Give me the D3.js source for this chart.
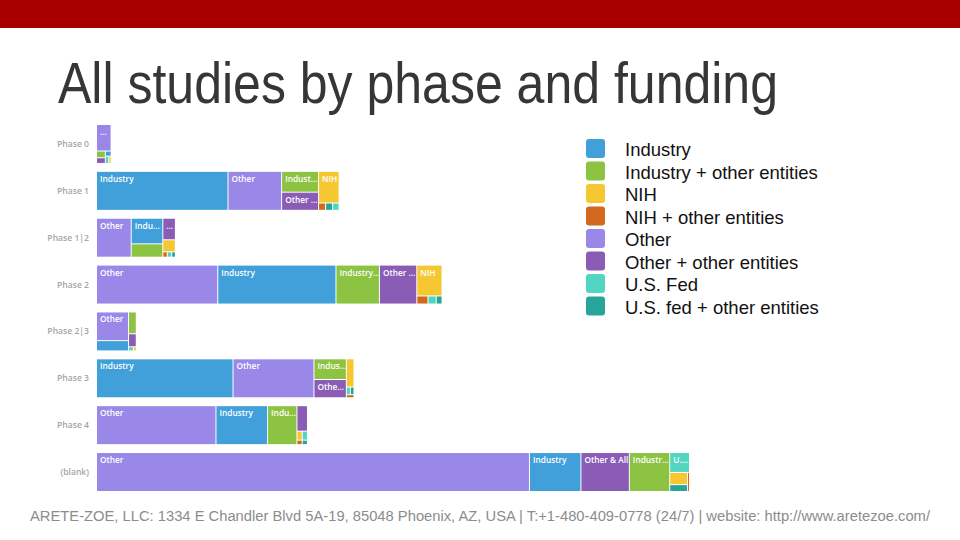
<!DOCTYPE html>
<html>
<head>
<meta charset="utf-8">
<script src="https://cdn.jsdelivr.net/npm/d3@7"></script>
<style>
  body { margin: 0; background: #fff; }
  svg { display: block; }
</style>
</head>
<body>
<div id="chart"></div>
<script>
// Phases (rows) and funding types (cells)
const phases = ["Phase 0", "Phase 1", "Phase 1|2", "Phase 2", "Phase 2|3", "Phase 3", "Phase 4", "(blank)"];
const funders = ["Industry", "Industry + other entities", "NIH", "NIH + other entities",
                 "Other", "Other + other entities", "U.S. Fed", "U.S. fed + other entities"];
const funderColors = ["#41a0d9", "#8cc342", "#f5c832", "#d2691e", "#9a88e8", "#8b5cb6", "#52d6c2", "#28a59b"];

// number of studies per funding type, same order as funders
const phase0Values  = [0.7, 1.4, 0.4, 0, 9.2, 1.2, 0.6, 0];
const phase1Values  = [130, 19.5, 16.5, 1.3, 53, 17, 1.2, 1.3];
const phase12Values = [20.4, 10.6, 3.8, 0.6, 34, 6.8, 0.6, 0.5];
const phase2Values  = [117, 43, 19.8, 2.3, 120, 37, 1.7, 1.2];
const phase23Values = [8.2, 4.2, 0.3, 0, 22.8, 2.5, 0.5, 0];
const phase3Values  = [135, 17, 5.5, 0.6, 80, 15, 0.8, 0.7];
const phase4Values  = [51, 29, 1.2, 0.6, 118, 6.8, 1.2, 0.6];
const blankValues   = [51, 40, 5.5, 1, 429, 48, 10, 3.1];

// the (blank) row names its mixed "Other" group differently
const labelOverrides = { "(blank)|Other + other entities": "Other & All" };

const rowValues = [phase0Values, phase1Values, phase12Values, phase2Values,
                   phase23Values, phase3Values, phase4Values, blankValues];

const footerText = "ARETE-ZOE, LLC: 1334 E Chandler Blvd 5A-19, 85048 Phoenix, AZ, USA | T:+1-480-409-0778 (24/7) | website: http://www.aretezoe.com/";

const width = 960, height = 540;

const svg = d3.select("#chart")
    .append("svg")
    .attr("width", width)
    .attr("height", height);

// Top red band
svg.append("rect")
    .attr("x", 0).attr("y", 0)
    .attr("width", width).attr("height", 28)
    .attr("fill", "#a80000");

// Title
svg.append("text")
    .attr("x", 58).attr("y", 103)
    .attr("textLength", 720)
    .attr("lengthAdjust", "spacingAndGlyphs")
    .style("font-family", "'Liberation Sans', Arial, sans-serif")
    .style("font-size", "57px")
    .style("fill", "#363636")
    .text("All studies by phase and funding");

// Scales
const y = d3.scaleBand()
    .domain(phases)
    .range([125, 491])
    .paddingInner(0.19);

const totals = rowValues.map(v => d3.sum(v));
const x = d3.scaleLinear()
    .domain([0, d3.max(totals)])
    .range([0, 592]);

const color = d3.scaleOrdinal().domain(funders).range(funderColors);

const chartLeft = 97;

// Row labels
svg.selectAll(".phase-label")
    .data(phases)
    .join("text")
    .attr("class", "phase-label")
    .attr("x", 89)
    .attr("y", d => y(d) + y.bandwidth() / 2 + 3)
    .attr("text-anchor", "end")
    .style("font-family", "'Open Sans', sans-serif")
    .style("font-weight", 600)
    .style("font-size", "8.6px")
    .style("fill", "#a6a6a6")
    .text(d => d);

// Shorten a label with an ellipsis until it fits
function fitLabel(textSel, full, maxW) {
    const node = textSel.node();
    textSel.text(full);
    if (node.getComputedTextLength() <= maxW) return;
    let s = full;
    while (s.length > 0) {
        s = s.slice(0, -1);
        textSel.text(s + "…");
        if (node.getComputedTextLength() <= maxW) return;
    }
    textSel.text("…");
}

// One treemap per phase row
phases.forEach((phase, i) => {
    const vals = rowValues[i];
    const root = d3.hierarchy({
            children: funders.map((f, j) => ({ name: f, value: vals[j] })).filter(d => d.value > 0)
        })
        .sum(d => d.value || 0)
        .sort((a, b) => b.value - a.value);

    d3.treemap()
        .size([x(totals[i]), y.bandwidth()])
        .tile(d3.treemapSquarify)
        .paddingInner(1)(root);

    const g = svg.append("g")
        .attr("transform", `translate(${chartLeft},${y(phase)})`);

    const cell = g.selectAll("g")
        .data(root.leaves())
        .join("g")
        .attr("transform", d => `translate(${d.x0},${d.y0})`);

    cell.append("rect")
        .attr("width", d => Math.max(0, d.x1 - d.x0))
        .attr("height", d => Math.max(0, d.y1 - d.y0))
        .attr("fill", d => color(d.data.name));

    cell.filter(d => (d.x1 - d.x0) >= 11 && (d.y1 - d.y0) >= 15)
        .append("text")
        .attr("x", 3)
        .attr("y", 10)
        .style("font-family", "'Open Sans', sans-serif")
        .style("font-weight", 600)
        .style("font-size", "8.3px")
        .style("fill", "#fff")
        .each(function(d) {
            const name = labelOverrides[phase + "|" + d.data.name] || d.data.name;
            fitLabel(d3.select(this), name, d.x1 - d.x0 - 2);
        });
});

// Legend
const legend = svg.selectAll(".legend")
    .data(funders)
    .join("g")
    .attr("class", "legend")
    .attr("transform", (d, i) => `translate(586,${148.5 + i * 22.5})`);

legend.append("rect")
    .attr("x", 0).attr("y", -9.5)
    .attr("width", 19).attr("height", 19)
    .attr("rx", 3)
    .attr("fill", d => color(d));

legend.append("text")
    .attr("x", 39)
    .attr("y", 7.5)
    .style("font-family", "'Liberation Sans', Arial, sans-serif")
    .style("font-size", "18.5px")
    .style("fill", "#111")
    .text(d => d);

// Footer
svg.append("text")
    .attr("x", 30).attr("y", 521)
    .attr("textLength", 900)
    .attr("lengthAdjust", "spacingAndGlyphs")
    .style("font-family", "'Liberation Sans', Arial, sans-serif")
    .style("font-size", "14px")
    .style("fill", "#8c8c8c")
    .text(footerText);
</script>
</body>
</html>
